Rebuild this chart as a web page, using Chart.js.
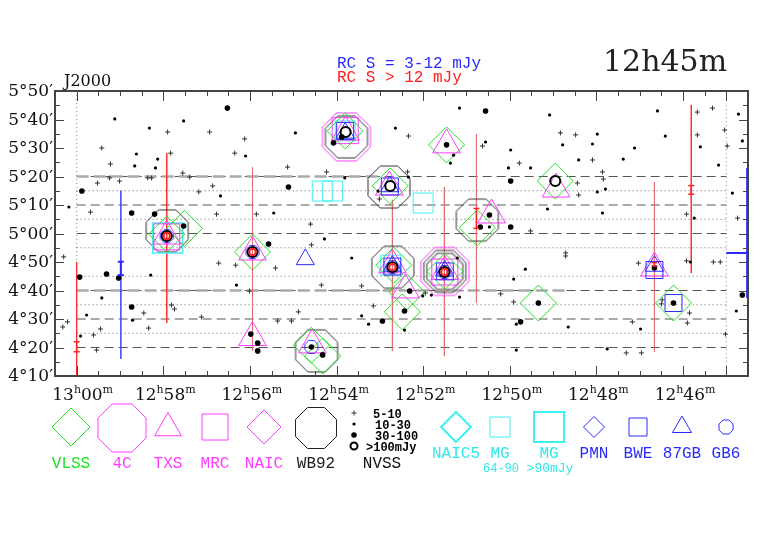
<!DOCTYPE html>
<html lang="en">
<head>
<meta charset="UTF-8">
<title>Radio sources around 12h45m +05</title>
<style>
  body { margin: 0; background: #fff; }
  #wrap { width: 782px; height: 542px; }
</style>
<script src="https://cdn.jsdelivr.net/npm/chart.js"></script>
</head>
<body>
<div id="wrap"><canvas id="chart" width="782" height="542"></canvas></div>
<script>
// RA in minutes after 12h (60 = 13h00m), Dec in arcmin (300 = 5°00')
const raLabelled = [60, 58, 56, 54, 52, 50, 48, 46];
const decLabelled = [250, 260, 270, 280, 290, 300, 310, 320, 330, 340, 350];

// NVSS by flux class
const nvssFaint = [[59.42,330],[59.22,324.4],[59.24,319.5],[59.52,317.7],[59.68,307.5],[59.01,318.4],[58.36,319.5],[58.27,319.5],[57.90,335.6],[57.83,328.2],[57.55,321.2],[57.39,319.8],[57.18,314.6],[56.93,335.6],[56.86,316.7],[56.77,306.8],[56.35,328.2],[56.12,333.2],[55.85,306.8],[55.13,323.3],[54.60,303.3],[54.23,321.6],[53.01,312.1],[52.36,321.6],[52.34,334.2],[50.63,330.7],[49.78,324.7],[48.83,335.3],[48.48,334.6],[48.09,325.8],[47.86,321.6],[47.84,319.1],[48.44,317.7],[48.41,313.5],[45.67,342.6],[45.32,344.0],[45.67,334.6],[45.04,336.3],[44.98,330.7],[45.92,306.8],[44.74,305.4],[49.52,300.9],[60.30,291.8],[60.32,267.2],[60.21,269.0],[59.61,264.4],[59.54,259.1],[59.45,266.5],[58.45,272.1],[58.34,266.8],[57.81,274.9],[57.74,273.5],[57.12,270.7],[56.72,289.6],[56.33,288.9],[56.01,279.8],[54.58,296.0],[55.41,287.9],[55.36,269.3],[55.04,269.3],[54.88,272.5],[54.35,281.9],[53.42,281.6],[53.15,274.6],[51.95,279.1],[50.21,278.8],[49.91,276.0],[48.71,293.2],[48.71,292.1],[47.03,289.6],[45.30,290.0],[45.14,290.0],[47.17,269.0],[46.48,276.7],[46.50,275.3],[45.85,272.1],[45.90,268.6],[47.31,258.1],[46.96,258.1],[45.02,264.7],[45.92,290.4]];
const nvssSmall = [[60.18,309.3],[59.12,340.2],[58.32,337.0],[58.62,327.9],[58.13,326.1],[58.18,323.0],[58.66,323.7],[57.53,339.5],[56.68,313.2],[56.10,327.2],[55.45,307.2],[54.95,335.3],[54.28,298.1],[53.81,319.5],[52.64,337.0],[51.16,344.0],[50.56,332.1],[51.30,327.5],[51.37,324.7],[49.98,329.3],[50.03,323.0],[49.52,323.0],[49.08,341.6],[48.78,331.1],[47.98,334.9],[48.09,331.4],[48.41,325.8],[47.12,330.0],[47.38,326.1],[46.59,343.0],[46.41,334.2],[45.60,330.4],[45.18,324.0],[44.72,341.9],[44.63,332.5],[44.86,314.2],[47.98,314.6],[47.79,315.6],[49.13,308.6],[47.86,307.2],[45.74,305.4],[50.47,302.3],[52.34,319.8],[53.04,314.9],[59.91,264.0],[59.77,271.4],[59.42,277.4],[58.71,269.6],[58.29,285.4],[53.65,291.4],[53.42,271.1],[53.26,268.2],[56.31,281.9],[51.21,291.4],[52.01,278.1],[51.81,278.4],[52.43,266.1],[51.16,277.7],[49.91,284.0],[49.64,287.5],[49.85,268.2],[48.65,267.2],[49.85,259.1],[47.75,259.5],[46.98,266.5],[45.83,290.0],[44.77,272.8]];
const nvssMedium = [[59.88,314.9],[58.73,307.2],[58.20,306.8],[57.53,302.6],[56.52,344.0],[55.11,316.3],[54.07,331.8],[53.88,333.9],[50.56,343.0],[49.98,318.4],[49.98,302.3],[50.47,306.5],[50.68,302.3],[59.93,284.7],[59.31,285.8],[59.03,284.4],[58.73,274.2],[55.57,296.3],[55.98,264.7],[55.82,261.6],[55.82,258.8],[54.58,260.2],[54.32,257.4],[52.94,269.3],[52.31,279.8],[52.43,272.8],[49.75,269.0],[49.34,275.6],[46.66,287.9],[46.22,275.6],[44.63,278.4],[51.46,331.1]];
const nvssBright = [[57.92,299.1],[55.94,293.5],[53.79,335.6],[52.76,316.7],[52.71,288.2],[51.51,286.5],[48.95,318.4]];

// other catalogues
const vlss = [[57.92,299.8],[57.51,301.8],[55.94,293.5],[54.58,260.8],[54.32,257.0],[53.80,336.0],[52.76,316.7],[52.68,288.9],[52.38,279.5],[52.48,272.5],[51.50,286.7],[50.75,302.0],[51.46,331.1],[48.95,318.4],[49.34,275.6],[46.22,275.6]];
const fourC = [[53.77,333.9],[51.50,286.7]];
const wb92 = [[57.91,300.9],[54.46,258.8],[53.77,333.9],[52.79,316.3],[52.70,288.2],[51.50,286.7],[50.75,304.7]];
const txs = [[57.92,299.1],[55.94,293.5],[55.94,263.5],[54.56,260.9],[53.79,335.6],[52.78,316.3],[52.71,289.0],[52.41,280.2],[51.50,286.7],[50.42,306.5],[51.46,331.1],[48.93,315.6],[46.66,287.9]];
const mrc = [[57.92,298.8],[53.80,336.1],[51.50,286.5]];
const mgBright = [[57.90,298.4]];
const mgFaint = [[54.33,314.9],[54.09,314.9],[52.00,310.7],[52.75,288.9],[53.80,336.0]];
const bwe = [[53.80,336.0],[52.77,316.5],[52.71,288.4],[51.50,286.7],[46.66,287.2],[46.22,275.6]];
const gb87 = [[54.72,290.9],[53.80,335.3],[52.77,316.5],[52.71,288.6],[51.50,286.9],[46.66,288.6]];
const gb6 = [[57.92,299.1],[55.94,293.5],[54.58,260.2],[52.71,288.2],[51.51,286.5]];

// RC catalogue: strong sources, strips [ra, decTop, decBottom], error bars [ra, lo, hi]
const rcStrong = [[57.92,299.1],[55.94,293.5],[52.71,288.2],[51.51,286.5]];
const rcStripsRed = [[60.00,290,250],[57.92,328.2,268.6],[45.81,345.1,286.1]];
const rcStripsPale = [[55.94,323.3,259],[52.71,311.8,258.8],[51.51,316.3,257],[50.77,334.9,275.6],[46.66,318,258.4]];
const rcStripsBlue = [[58.98,315,256]];
const rcBarsRed = [[60.00,258.5,262],[50.77,301.8,308.8],[45.81,313.8,316.8],[46.66,288.6,289.8]];
const rcBarsBlue = [[58.98,285.4,290.1]];

const dashedDecs = [260, 270, 280, 300, 310, 320];
const dottedDecs = [265, 275, 285, 295, 305, 315];
// wider grey survey edges [dec, raFrom, raTo]
const edgeDecs = [[320, 60, 53.0], [280, 60, 48.6]];

const GREEN = '#22e022', MAGENTA = '#ff3cff', CYAN = '#40f0f0', BLUE = '#2a2aff', RED = '#ff2020';

function octagon(r, color, lw) {
  const R = r / Math.cos(Math.PI / 8);
  const s = Math.ceil(R + lw) * 2 + 2;
  const c = document.createElement('canvas');
  c.width = s; c.height = s;
  const g = c.getContext('2d');
  g.strokeStyle = color; g.lineWidth = lw;
  g.beginPath();
  for (let k = 0; k < 8; k++) {
    const a = Math.PI / 8 + k * Math.PI / 4;
    const px = s / 2 + R * Math.cos(a), py = s / 2 + R * Math.sin(a);
    if (k) g.lineTo(px, py); else g.moveTo(px, py);
  }
  g.closePath(); g.stroke();
  return c;
}

function pts(arr) { return arr.map(p => ({ x: p[0], y: p[1] })); }

function marks(data, style, r, color, lw, fill, order) {
  return {
    data: pts(data), pointStyle: style, pointRadius: r, pointHoverRadius: r,
    pointBorderColor: color, pointBackgroundColor: fill || 'rgba(0,0,0,0)',
    pointBorderWidth: lw, showLine: false, order: order
  };
}

function segs(list) {
  const out = [];
  list.forEach(s => out.push({ x: s[0][0], y: s[0][1] }, { x: s[1][0], y: s[1][1] }, { x: s[1][0], y: null }));
  return out;
}

function lines(list, color, lw, dash, order, cap) {
  return {
    data: segs(list), showLine: true, borderColor: color, borderWidth: lw, borderDash: dash || [],
    pointRadius: cap ? 3 : 0, pointStyle: 'line', pointBorderColor: color, pointBorderWidth: lw,
    spanGaps: false, order: order
  };
}

const datasets = [
  lines(dashedDecs.map(d => [[60, d], [45, d]]), '#555', 1, [9, 5], 20),
  lines(dottedDecs.map(d => [[60, d], [45, d]]), '#666', 1, [1, 3], 20),
  lines(edgeDecs.map(e => [[e[1], e[0]], [e[2], e[0]]]), '#aaa', 2.5, [12, 5], 19),
  lines([[[60, 350], [60, 250]], [[45, 345], [45, 250]]], '#888', 1, [1, 3], 20),
  lines([[[44.52, 323], [44.52, 277.4]], [[45.0, 293.2], [44.52, 293.2]]], BLUE, 2, [], 19),
  lines(rcStripsRed.map(s => [[s[0], s[1]], [s[0], s[2]]]), 'rgba(255,40,40,0.85)', 1, [], 18),
  lines(rcStripsPale.map(s => [[s[0], s[1]], [s[0], s[2]]]), 'rgba(225,110,110,0.85)', 1, [], 18),
  lines(rcStripsBlue.map(s => [[s[0], s[1]], [s[0], s[2]]]), 'rgba(70,70,255,0.85)', 1, [], 18),
  marks(wb92, octagon(21, '#333', 1), 20, '#333', 1, null, 12),
  marks([[51.50, 286.7]], octagon(18, '#999', 2), 17, '#999', 1, null, 12),
  marks(fourC, octagon(24, MAGENTA, 1), 23, MAGENTA, 1, null, 12),
  marks(mgBright, 'rect', 21.2, CYAN, 1.5, null, 11),
  marks(mgFaint, 'rect', 14.1, CYAN, 1, null, 11),
  marks(mrc, 'rect', 18.4, MAGENTA, 1, null, 10),
  marks(vlss, 'rectRot', 18, GREEN, 1, null, 9),
  marks(txs, 'triangle', 16, MAGENTA, 1, null, 8),
  marks(bwe, 'rect', 12, BLUE, 1, null, 7),
  marks(gb87, 'triangle', 10.5, BLUE, 1, null, 7),
  marks(gb6, octagon(6.5, BLUE, 1), 6, BLUE, 1, null, 7),
  marks(nvssFaint, 'cross', 2.5, '#333', 1, null, 3),
  marks(nvssSmall, 'circle', 1.6, '#000', 0, '#000', 3),
  marks(nvssMedium, 'circle', 2.8, '#000', 0, '#000', 3),
  marks(nvssBright, 'circle', 5, '#000', 2, null, 2),
  marks(rcStrong, 'circle', 3.2, RED, 2, null, 1),
  lines(rcBarsRed.map(b => [[b[0], b[1]], [b[0], b[2]]]), RED, 1.5, [], 1, true),
  lines(rcBarsBlue.map(b => [[b[0], b[1]], [b[0], b[2]]]), BLUE, 2, [], 1, true)
];

function shape(g, kind, x, y, r, color, lw) {
  g.save();
  g.strokeStyle = color; g.lineWidth = lw;
  g.beginPath();
  if (kind === 'diamond') {
    g.moveTo(x - r, y); g.lineTo(x, y - r); g.lineTo(x + r, y); g.lineTo(x, y + r); g.closePath();
  } else if (kind === 'square') {
    g.rect(x - r, y - r, 2 * r, 2 * r);
  } else if (kind === 'triangle') {
    const w = r * Math.sin(Math.PI * 2 / 3);
    g.moveTo(x, y - r); g.lineTo(x + w, y + r / 2); g.lineTo(x - w, y + r / 2); g.closePath();
  } else if (kind === 'octagon') {
    const R = r / Math.cos(Math.PI / 8);
    for (let k = 0; k < 8; k++) {
      const a = Math.PI / 8 + k * Math.PI / 4;
      if (k) g.lineTo(x + R * Math.cos(a), y + R * Math.sin(a)); else g.moveTo(x + R * Math.cos(a), y + R * Math.sin(a));
    }
    g.closePath();
  }
  g.stroke();
  g.restore();
}

const legendItems = [
  ['VLSS', GREEN, 'diamond', 19, 71, 427, 468],
  ['4C', MAGENTA, 'octagon', 24, 122, 428, 468],
  ['TXS', MAGENTA, 'triangle', 15.5, 168, 428, 468],
  ['MRC', MAGENTA, 'square', 13, 215, 427, 468],
  ['NAIC', MAGENTA, 'diamond', 17, 264, 427, 468],
  ['WB92', '#222', 'octagon', 20.5, 316, 428, 468],
  ['NAIC5', CYAN, 'diamond', 15, 456, 427, 458],
  ['MG', CYAN, 'square', 10, 500, 427, 458],
  ['MG', CYAN, 'square', 15, 549, 427, 458],
  ['PMN', BLUE, 'diamond', 10.5, 594, 427, 458],
  ['BWE', BLUE, 'square', 9, 638, 427, 458],
  ['87GB', BLUE, 'triangle', 11, 682, 427, 458],
  ['GB6', BLUE, 'octagon', 7, 726, 427, 458]
];

function drawRaLabel(g, v, cx, base) {
  const hh = v >= 60 ? '13' : '12';
  const mm = String(v >= 60 ? v - 60 : v).padStart(2, '0');
  const big = '17px "DejaVu Serif"', small = '11px "DejaVu Serif"';
  const parts = [[hh, big, 0], ['h', small, -7], [mm, big, 0], ['m', small, -7]];
  let w = 0;
  parts.forEach(p => { g.font = p[1]; w += g.measureText(p[0]).width; });
  let x = cx - w / 2;
  g.textAlign = 'left'; g.textBaseline = 'alphabetic';
  parts.forEach(p => { g.font = p[1]; g.fillText(p[0], x, base + p[2]); x += g.measureText(p[0]).width; });
}

const framePlugin = {
  id: 'frame',
  afterDraw(chart) {
    const g = chart.ctx, a = chart.chartArea, xs = chart.scales.x, ys = chart.scales.y;
    g.save();
    g.fillStyle = '#111'; g.strokeStyle = '#444';
    // ticks
    g.lineWidth = 1;
    g.beginPath();
    for (let v = 45; v <= 60; v += 0.5) {
      const px = Math.round(xs.getPixelForValue(v)) + 0.5;
      const len = (v % 2 === 0 || v === 45) ? 10 : 5;
      g.moveTo(px, a.bottom); g.lineTo(px, a.bottom - len);
      g.moveTo(px, a.top); g.lineTo(px, a.top + len);
    }
    for (let d = 255; d < 350; d += 5) {
      const py = Math.round(ys.getPixelForValue(d)) + 0.5;
      const len = d % 10 === 0 ? 9 : 5;
      g.moveTo(a.left, py); g.lineTo(a.left + len, py);
      g.moveTo(a.right, py); g.lineTo(a.right - len, py);
    }
    g.stroke();
    g.lineWidth = 2;
    g.strokeRect(a.left, a.top, a.right - a.left, a.bottom - a.top);

    // tick labels
    g.fillStyle = '#111';
    raLabelled.forEach(v => drawRaLabel(g, v, xs.getPixelForValue(v) + (v === 60 ? 6 : 2), 400));
    g.font = '17px "DejaVu Serif"'; g.textAlign = 'right'; g.textBaseline = 'middle';
    decLabelled.forEach(d => {
      const txt = Math.floor(d / 60) + '\u00b0' + String(d % 60).padStart(2, '0') + '\u2032';
      g.fillText(txt, a.left - 2, ys.getPixelForValue(d) + 1);
    });

    // titles
    g.textAlign = 'left'; g.textBaseline = 'alphabetic';
    g.font = '16px "DejaVu Serif"'; g.fillText('J2000', 64, 86);
    g.font = '30px "DejaVu Serif"'; g.fillStyle = '#222'; g.fillText('12h45m', 603, 71);
    g.font = '16px "Liberation Mono"';
    g.fillStyle = BLUE; g.fillText('RC S = 3-12 mJy', 337, 68);
    g.fillStyle = RED; g.fillText('RC S > 12 mJy', 337, 82);

    // legend
    legendItems.forEach(it => {
      shape(g, it[2], it[4], it[5], it[3], it[1], it[1] === CYAN && it[3] > 12 ? 2 : 1);
      g.fillStyle = it[1] === CYAN ? '#30e8e8' : it[1];
      g.font = '16px "Liberation Mono"'; g.textAlign = 'center';
      g.fillText(it[0], it[4], it[6]);
    });
    g.fillStyle = '#30e8e8'; g.font = '12px "Liberation Mono"';
    g.fillText('64-90', 501, 472);
    g.font = '13px "Liberation Mono"';
    g.fillText('>90mJy', 550, 472);

    // NVSS key
    g.strokeStyle = '#333'; g.lineWidth = 1;
    g.beginPath(); g.moveTo(351.5, 413); g.lineTo(356.5, 413); g.moveTo(354, 410.5); g.lineTo(354, 415.5); g.stroke();
    g.fillStyle = '#000';
    g.beginPath(); g.arc(354, 424, 1.6, 0, Math.PI * 2); g.fill();
    g.beginPath(); g.arc(354, 435, 2.8, 0, Math.PI * 2); g.fill();
    g.strokeStyle = '#000'; g.lineWidth = 2;
    g.beginPath(); g.arc(354, 446, 3.5, 0, Math.PI * 2); g.stroke();
    g.font = 'bold 12px "Liberation Mono"'; g.textAlign = 'left';
    g.fillText('5-10', 373, 418);
    g.fillText('10-30', 375, 429);
    g.fillText('30-100', 375, 440);
    g.fillText('>100mJy', 366, 451);
    g.font = '16px "Liberation Mono"'; g.textAlign = 'center'; g.fillStyle = '#111';
    g.fillText('NVSS', 382, 468);
    g.restore();
  }
};

new Chart(document.getElementById('chart'), {
  type: 'scatter',
  data: { datasets: datasets },
  options: {
    responsive: false,
    animation: false,
    events: [],
    layout: { padding: { left: 55, top: 91, right: 34, bottom: 166 } },
    scales: {
      x: { type: 'linear', display: false, reverse: true, min: 44.5, max: 60.5 },
      y: { type: 'linear', display: false, min: 250, max: 350 }
    },
    plugins: { legend: { display: false }, tooltip: { enabled: false } }
  },
  plugins: [framePlugin]
});
</script>
</body>
</html>
